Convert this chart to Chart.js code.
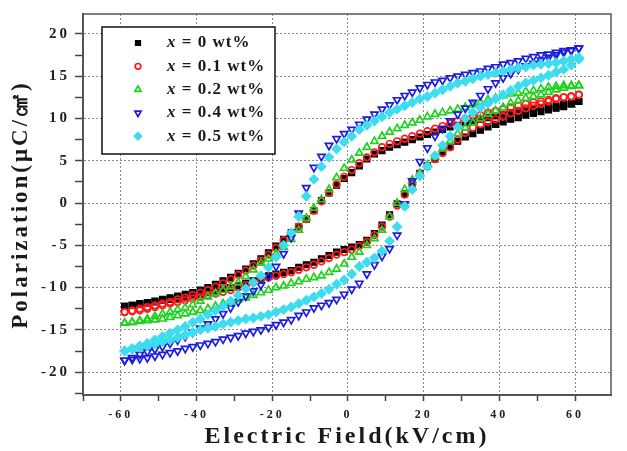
<!DOCTYPE html>
<html lang="en">
<head>
    <meta charset="UTF-8">
    <title>P-E hysteresis loops</title>
    <script src="https://cdn.jsdelivr.net/npm/chart.js"></script>
    <style>
        body { margin: 0; background: #fff; }
    </style>
</head>
<body>
    <canvas id="myChart" width="627" height="451"></canvas>

    <script>
        // electric field sweep points (kV/cm), shared by every loop
        var fieldKV = [
            -59, -57, -55, -53, -51, -49, -47, -45, -43, -41,
            -39, -37, -35, -33, -31, -29, -27, -25, -23, -21,
            -19, -17, -15, -13, -11, -9, -7, -5, -3, -1,
            1, 3, 5, 7, 9, 11, 13, 15, 17, 19,
            21, 23, 25, 27, 29, 31, 33, 35, 37, 39,
            41, 43, 45, 47, 49, 51, 53, 55, 57, 59,
            61
        ];

        var contents = ['0', '0.1', '0.2', '0.4', '0.5'];

        // polarization on the rising sweep (lower branch), µC/cm²
        var riseX0 = [
            -12.2, -12.1, -12.0, -11.8, -11.7, -11.5, -11.4, -11.3, -11.1, -11.0,
            -10.8, -10.6, -10.4, -10.2, -10.0, -9.8, -9.5, -9.2, -8.9, -8.6,
            -8.4, -8.2, -8.0, -7.6, -7.3, -7.0, -6.6, -6.2, -5.8, -5.5,
            -5.2, -4.9, -4.4, -3.6, -2.6, -1.4, -0.1, 1.1, 2.3, 3.5,
            4.4, 5.2, 6.0, 6.7, 7.3, 7.8, 8.2, 8.6, 9.0, 9.3,
            9.6, 9.9, 10.1, 10.4, 10.6, 10.8, 11.0, 11.2, 11.4, 11.7,
            12.0
        ];
        var riseX01 = [
            -12.9, -12.8, -12.7, -12.5, -12.3, -12.1, -11.9, -11.7, -11.5, -11.3,
            -11.1, -10.9, -10.7, -10.5, -10.3, -10.0, -9.7, -9.4, -9.1, -8.8,
            -8.6, -8.4, -8.2, -7.9, -7.6, -7.3, -6.9, -6.5, -6.1, -5.8,
            -5.5, -5.1, -4.6, -3.8, -2.8, -1.6, -0.3, 1.0, 2.2, 3.4,
            4.4, 5.2, 5.9, 6.6, 7.5, 8.3, 8.9, 9.3, 9.6, 9.9,
            10.2, 10.6, 10.9, 11.2, 11.5, 11.7, 12.0, 12.3, 12.5, 12.6,
            12.8
        ];
        var riseX02 = [
            -14.2, -14.1, -14.0, -13.9, -13.8, -13.7, -13.5, -13.3, -13.1, -12.9,
            -12.7, -12.5, -12.2, -11.9, -11.7, -11.4, -11.2, -10.9, -10.6, -10.3,
            -10.0, -9.8, -9.5, -9.3, -9.0, -8.8, -8.6, -8.2, -7.8, -7.2,
            -6.4, -5.8, -5.0, -4.2, -3.2, -1.6, 0.0, 1.6, 2.7, 3.5,
            4.5, 5.5, 6.4, 7.3, 8.2, 8.9, 9.5, 10.0, 10.5, 10.9,
            11.3, 11.8, 12.1, 12.4, 12.6, 12.8, 13.1, 13.4, 13.6, 13.8,
            13.9
        ];
        var riseX04 = [
            -18.6, -18.5, -18.4, -18.3, -18.1, -17.9, -17.7, -17.5, -17.2, -17.0,
            -16.8, -16.6, -16.4, -16.1, -15.9, -15.7, -15.4, -15.2, -15.0, -14.7,
            -14.4, -14.1, -13.8, -13.3, -12.9, -12.4, -12.1, -11.8, -11.4, -10.8,
            -10.2, -9.5, -8.4, -7.3, -6.3, -5.4, -3.8, -0.1, 2.6, 4.9,
            6.5, 7.9, 8.8, 9.7, 10.5, 11.2, 11.9, 12.7, 13.5, 14.2,
            14.8, 15.3, 15.8, 16.2, 16.5, 16.9, 17.2, 17.5, 17.8, 18.0,
            18.3
        ];
        var riseX05 = [
            -17.5, -17.3, -17.1, -16.9, -16.7, -16.4, -16.2, -15.9, -15.6, -15.3,
            -15.0, -14.8, -14.6, -14.3, -14.1, -13.9, -13.7, -13.6, -13.4, -13.2,
            -12.9, -12.6, -12.3, -11.9, -11.5, -11.1, -10.7, -10.2, -9.6, -9.1,
            -8.4, -7.5, -7.0, -6.5, -5.7, -4.5, -2.8, -0.4, 1.6, 3.2,
            4.3, 5.6, 6.8, 7.9, 9.0, 10.0, 10.7, 11.3, 11.8, 12.3,
            12.8, 13.3, 13.8, 14.2, 14.5, 14.8, 15.1, 15.5, 15.8, 16.3,
            17.0
        ];

        // polarization on the falling sweep (upper branch), same field points
        var fallX0 = [
            -12.2, -12.1, -11.9, -11.8, -11.6, -11.4, -11.2, -11.0, -10.8, -10.6,
            -10.3, -10.0, -9.6, -9.2, -8.8, -8.3, -7.8, -7.2, -6.6, -5.9,
            -5.1, -4.3, -3.5, -2.8, -1.9, -0.9, 0.3, 1.2, 2.1, 2.9,
            3.6, 4.4, 5.2, 5.8, 6.2, 6.6, 6.9, 7.2, 7.5, 7.8,
            8.1, 8.4, 8.7, 9.0, 9.2, 9.5, 9.7, 9.9, 10.1, 10.3,
            10.5, 10.7, 10.8, 11.0, 11.1, 11.3, 11.4, 11.5, 11.7, 11.8,
            12.0
        ];
        var fallX01 = [
            -12.9, -12.7, -12.5, -12.3, -12.1, -11.9, -11.7, -11.4, -11.2, -10.9,
            -10.6, -10.3, -9.9, -9.5, -9.0, -8.5, -8.0, -7.4, -6.8, -6.1,
            -5.3, -4.4, -3.6, -2.8, -1.9, -0.9, 0.2, 1.2, 2.2, 3.1,
            3.9, 4.7, 5.4, 6.0, 6.6, 7.0, 7.3, 7.6, 7.9, 8.2,
            8.5, 8.8, 9.1, 9.4, 9.7, 10.0, 10.2, 10.4, 10.7, 10.9,
            11.1, 11.3, 11.5, 11.7, 11.9, 12.0, 12.2, 12.4, 12.5, 12.6,
            12.8
        ];
        var fallX02 = [
            -14.2, -14.1, -13.9, -13.7, -13.4, -13.1, -12.9, -12.6, -12.4, -12.0,
            -11.6, -11.1, -10.7, -10.3, -9.9, -9.4, -8.7, -7.9, -7.1, -6.6,
            -6.0, -5.2, -4.3, -3.2, -1.8, -0.6, 0.4, 1.6, 3.0, 4.1,
            5.1, 5.9, 6.6, 7.3, 7.9, 8.4, 8.8, 9.2, 9.5, 9.8,
            10.2, 10.5, 10.7, 10.9, 11.1, 11.3, 11.6, 11.9, 12.2, 12.4,
            12.7, 12.9, 13.0, 13.2, 13.3, 13.5, 13.7, 13.8, 13.9, 13.9,
            13.9
        ];
        var fallX04 = [
            -18.6, -18.3, -17.9, -17.6, -17.3, -17.0, -16.6, -16.2, -15.8, -15.3,
            -14.8, -14.3, -13.7, -13.1, -12.4, -11.7, -11.0, -10.4, -9.7, -8.7,
            -7.5, -6.0, -4.1, -1.2, 1.8, 4.2, 5.5, 6.8, 7.6, 8.2,
            8.7, 9.3, 9.9, 10.5, 11.1, 11.6, 12.2, 12.7, 13.1, 13.6,
            14.0, 14.3, 14.5, 14.8, 15.0, 15.2, 15.4, 15.6, 15.9, 16.1,
            16.4, 16.6, 16.8, 17.1, 17.3, 17.5, 17.6, 17.8, 18.0, 18.1,
            18.3
        ];
        var fallX05 = [
            -17.5, -17.2, -16.9, -16.6, -16.2, -15.8, -15.4, -15.0, -14.6, -14.1,
            -13.7, -13.2, -12.7, -12.2, -11.6, -10.9, -10.1, -9.4, -8.6, -7.6,
            -6.4, -5.0, -3.5, -1.6, 0.8, 2.8, 4.3, 5.4, 6.4, 7.2,
            7.9, 8.7, 9.2, 9.7, 10.2, 10.7, 11.1, 11.5, 11.9, 12.3,
            12.6, 13.0, 13.4, 13.8, 14.2, 14.4, 14.7, 15.0, 15.2, 15.4,
            15.6, 15.8, 16.0, 16.1, 16.3, 16.4, 16.5, 16.6, 16.8, 17.0,
            17.2
        ];

        var xTicksMajor = [-60, -40, -20, 0, 20, 40, 60];
        var yTicksMajor = [-20, -15, -10, -5, 0, 5, 10, 15, 20];

        document.addEventListener('DOMContentLoaded', function () {
            var serif = '"Liberation Serif", "Times New Roman", serif';
            var rises = [riseX0, riseX01, riseX02, riseX04, riseX05];
            var falls = [fallX0, fallX01, fallX02, fallX04, fallX05];
            var styles = [
                { pointStyle: 'rect', color: '#000000', fill: '#000000', radius: 4.2, rotation: 0, width: 1.2 },
                { pointStyle: 'circle', color: '#ff1a1a', fill: 'rgba(0,0,0,0)', radius: 3.3, rotation: 0, width: 1.7 },
                { pointStyle: 'triangle', color: '#1ed21e', fill: 'rgba(0,0,0,0)', radius: 4.2, rotation: 0, width: 1.7 },
                { pointStyle: 'triangle', color: '#1c1ce0', fill: 'rgba(0,0,0,0)', radius: 4.2, rotation: 180, width: 1.7 },
                { pointStyle: 'rectRot', color: '#3ddcf0', fill: '#3ddcf0', radius: 4.6, rotation: 0, width: 1.2 }
            ];

            function loopPoints(rise, fall) {
                var pts = [];
                fieldKV.forEach(function (e, i) { pts.push({ x: e, y: rise[i] }); });
                for (var i = fieldKV.length - 1; i >= 0; i--) pts.push({ x: fieldKV[i], y: fall[i] });
                return pts;
            }

            var datasets = contents.map(function (w, i) {
                var s = styles[i];
                return {
                    label: 'x = ' + w + ' wt%',
                    content: w,
                    data: loopPoints(rises[i], falls[i]),
                    pointStyle: s.pointStyle,
                    rotation: s.rotation,
                    pointRadius: s.radius,
                    borderColor: s.color,
                    backgroundColor: s.fill,
                    borderWidth: s.width,
                    showLine: false,
                    order: 5 - i
                };
            });

            // letter spacing for axis text, reset by canvas sizing so set it each update
            var spacing = {
                id: 'spacing',
                beforeUpdate: function (chart) { chart.ctx.letterSpacing = '3px'; },
                beforeDraw: function (chart) { chart.ctx.letterSpacing = '3px'; }
            };

            // thin frame on top and right of the plot
            var frame = {
                id: 'frame',
                afterDraw: function (chart) {
                    var a = chart.chartArea, c = chart.ctx;
                    c.save();
                    c.strokeStyle = '#555';
                    c.lineWidth = 1.5;
                    c.beginPath();
                    c.moveTo(a.left, a.top);
                    c.lineTo(a.right, a.top);
                    c.lineTo(a.right, a.bottom);
                    c.stroke();
                    c.restore();
                }
            };

            // boxed legend inside the plot, italic x then bold text
            var legendBox = {
                id: 'legendBox',
                afterDraw: function (chart) {
                    var a = chart.chartArea, c = chart.ctx;
                    var x0 = a.left + 19, y0 = a.top + 13, w = 173, h = 127;
                    c.save();
                    c.letterSpacing = '1px';
                    c.fillStyle = '#fff';
                    c.fillRect(x0, y0, w, h);
                    c.strokeStyle = '#111';
                    c.lineWidth = 1.5;
                    c.strokeRect(x0, y0, w, h);
                    chart.data.datasets.forEach(function (ds, i) {
                        var y = y0 + 16 + i * 23.3;
                        c.fillStyle = ds.backgroundColor;
                        c.strokeStyle = ds.borderColor;
                        c.lineWidth = ds.borderWidth;
                        Chart.helpers.drawPoint(c, {
                            pointStyle: ds.pointStyle,
                            radius: ds.pointRadius * 0.85,
                            rotation: ds.rotation,
                            borderWidth: ds.borderWidth
                        }, x0 + 36, y);
                        c.fillStyle = '#1a1a1a';
                        c.textBaseline = 'middle';
                        c.textAlign = 'left';
                        c.font = 'italic bold 17px ' + serif;
                        c.fillText('x', x0 + 65, y);
                        var wx = c.measureText('x').width;
                        c.font = 'bold 17px ' + serif;
                        c.fillText(' = ' + ds.content + ' wt%', x0 + 65 + wx, y);
                    });
                    c.restore();
                }
            };

            var ctx = document.getElementById('myChart').getContext('2d');
            var myChart = new Chart(ctx, {
                type: 'scatter',
                data: { datasets: datasets },
                plugins: [spacing, frame, legendBox],
                options: {
                    responsive: false,
                    animation: false,
                    layout: { padding: { top: 10, right: 16, left: 0, bottom: 0 } },
                    plugins: {
                        legend: { display: false },
                        tooltip: { enabled: false }
                    },
                    scales: {
                        x: {
                            type: 'linear',
                            min: -70,
                            max: 69.5,
                            afterFit: function (scale) { scale.height = 56; },
                            ticks: {
                                stepSize: 10,
                                includeBounds: false,
                                autoSkip: false,
                                maxRotation: 0,
                                padding: 7,
                                color: '#222',
                                font: { family: serif, size: 12, weight: 'bold' },
                                callback: function (v) { return xTicksMajor.indexOf(v) >= 0 ? String(v) : ''; }
                            },
                            grid: {
                                color: function (c) { return xTicksMajor.indexOf(c.tick.value) >= 0 ? '#8a8a8a' : 'rgba(0,0,0,0)'; },
                                lineWidth: 1,
                                tickColor: '#444',
                                tickWidth: 1.5,
                                tickLength: 6
                            },
                            border: { display: true, color: '#555', width: 2, dash: [2, 2] },
                            title: {
                                display: true,
                                text: 'Electric Field(kV/cm)',
                                color: '#1a1a1a',
                                font: { family: serif, size: 24, weight: 'bold' },
                                padding: { top: 0, bottom: 0 }
                            }
                        },
                        y: {
                            type: 'linear',
                            min: -22.7,
                            max: 22.35,
                            afterFit: function (scale) { scale.width = 83; },
                            ticks: {
                                stepSize: 2.5,
                                includeBounds: false,
                                autoSkip: false,
                                padding: 5,
                                color: '#222',
                                font: { family: serif, size: 15, weight: 'bold' },
                                callback: function (v) { return yTicksMajor.indexOf(v) >= 0 ? String(v) : ''; }
                            },
                            grid: {
                                color: function (c) { return yTicksMajor.indexOf(c.tick.value) >= 0 ? '#8a8a8a' : 'rgba(0,0,0,0)'; },
                                lineWidth: 1,
                                tickColor: '#444',
                                tickWidth: 1.5,
                                tickLength: 8
                            },
                            border: { display: true, color: '#555', width: 2, dash: [2, 2] },
                            title: {
                                display: true,
                                text: 'Polarization(μC/㎠)',
                                color: '#1a1a1a',
                                font: { family: serif, size: 23, weight: 'bold' },
                                padding: { top: 7, bottom: 0 }
                            }
                        }
                    }
                }
            });
        });
    </script>
</body>
</html>
